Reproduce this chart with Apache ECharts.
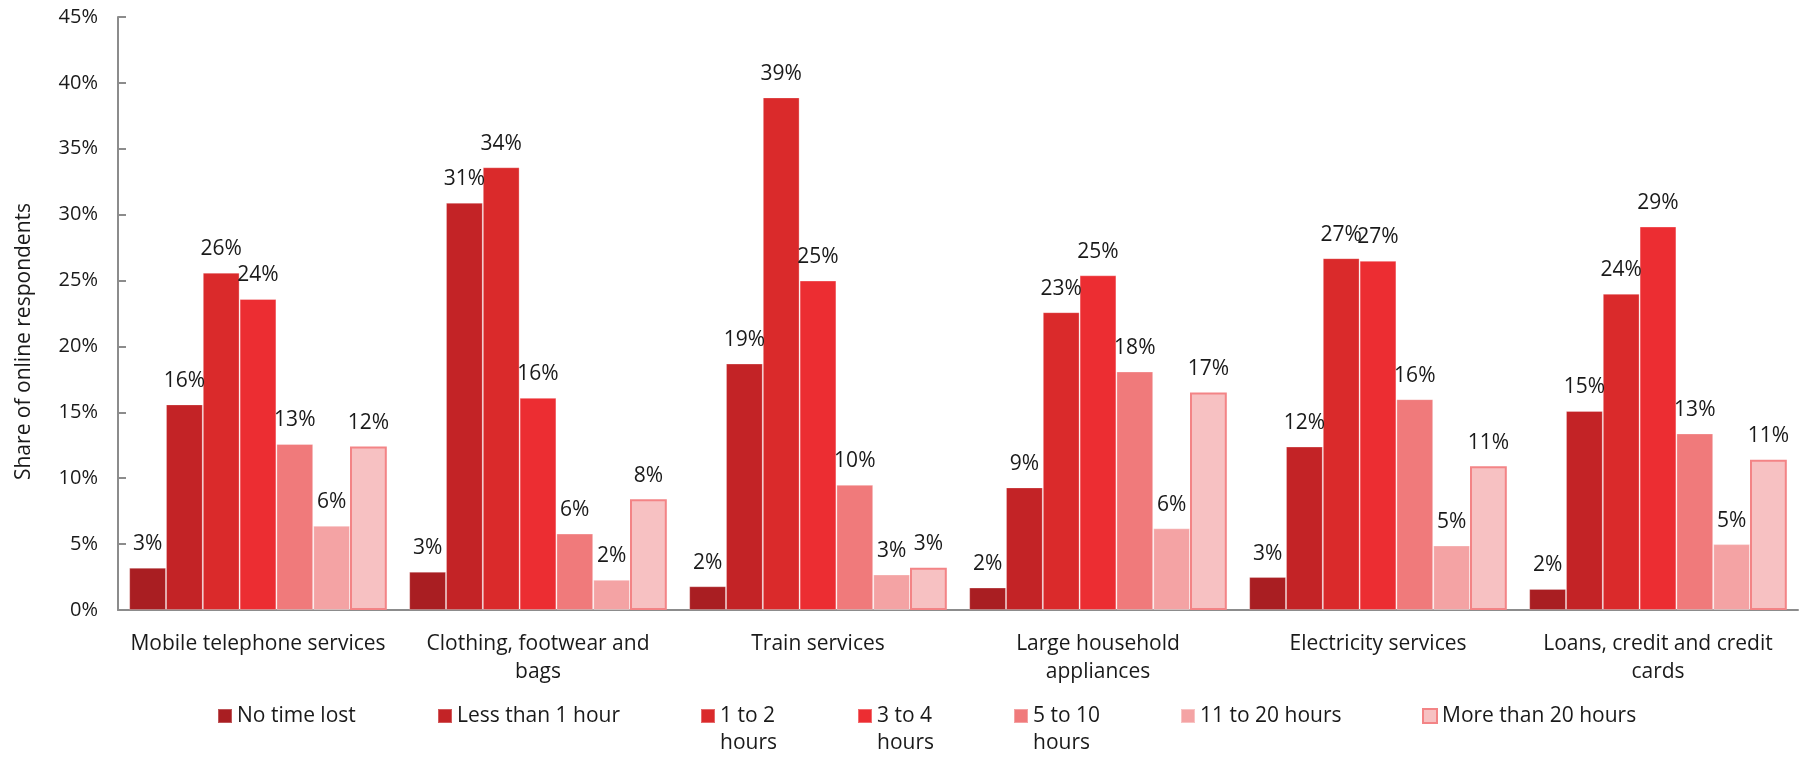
<!DOCTYPE html>
<html>
<head>
<meta charset="utf-8">
<script src="https://cdn.jsdelivr.net/npm/echarts@6/dist/echarts.min.js"></script>
<style>
html,body{margin:0;padding:0;background:#fff;}
#chart{width:1803px;height:758px;}
</style>
</head>
<body>
<div id="chart"></div>
<script>
const categories = [
  'Mobile telephone services',
  'Clothing, footwear and\nbags',
  'Train services',
  'Large household\nappliances',
  'Electricity services',
  'Loans, credit and credit\ncards'
];
const seriesNames = ['No time lost','Less than 1 hour','1 to 2 hours','3 to 4 hours','5 to 10 hours','11 to 20 hours','More than 20 hours'];
const noTimeLost    = [3.2, 2.9, 1.8, 1.7, 2.5, 1.6];
const lessThan1h    = [15.6, 30.9, 18.7, 9.3, 12.4, 15.1];
const oneTo2h       = [25.6, 33.6, 38.9, 22.6, 26.7, 24.0];
const threeTo4h     = [23.6, 16.1, 25.0, 25.4, 26.5, 29.1];
const fiveTo10h     = [12.6, 5.8, 9.5, 18.1, 16.0, 13.4];
const elevenTo20h   = [6.4, 2.3, 2.7, 6.2, 4.9, 5.0];
const moreThan20h   = [12.4, 8.4, 3.2, 16.5, 10.9, 11.4];
const yTicks = {min: 0, max: 45, interval: 5};

const values = [noTimeLost, lessThan1h, oneTo2h, threeTo4h, fiveTo10h, elevenTo20h, moreThan20h];
const colors = ['#A91E22','#C32326','#DA2A2B','#EC2D32','#F07A7B','#F4A3A4','#F7C1C2'];
const borders = ['rgba(255,255,255,0.25)','rgba(255,255,255,0.25)','rgba(255,255,255,0.3)','rgba(255,255,255,0.3)','rgba(255,255,255,0.3)','rgba(255,255,255,0.35)','#F38486'];
const legendX = [217, 437, 700, 857, 1013, 1180, 1422];
const legendLabels = ['No time lost','Less than 1 hour','\n1 to 2\nhours','\n3 to 4\nhours','\n5 to 10\nhours','11 to 20 hours','More than 20 hours'];

const FONT = 'Open Sans';
const chart = echarts.init(document.getElementById('chart'), null, {renderer: 'canvas'});

const legends = seriesNames.map((n, i) => {
  const multi = legendLabels[i].indexOf('\n') >= 0;
  return {
    data: [n],
    left: legendX[i],
    top: multi ? 716 - 40.5 : 716 - 13.5,
    padding: 0,
    icon: 'rect',
    itemWidth: 14,
    itemHeight: 14,
    selectedMode: false,
    formatter: () => legendLabels[i],
    textStyle: {fontFamily: FONT, fontSize: 21, color: '#1a1a1a', lineHeight: 27}
  };
});

const series = seriesNames.map((n, i) => ({
  name: n,
  type: 'bar',
  data: values[i],
  barGap: '0%',
  barCategoryGap: '8%',
  itemStyle: {color: colors[i], borderColor: borders[i], borderWidth: i === 6 ? 2 : 1},
  label: {
    show: true,
    position: 'top',
    distance: 13,
    formatter: p => Math.round(p.value) + '%',
    fontFamily: FONT,
    fontSize: 21,
    color: '#1a1a1a'
  }
}));

chart.setOption({
  animation: false,
  backgroundColor: '#fff',
  grid: {left: 118, right: 5, top: 17, bottom: 148, containLabel: false},
  legend: legends,
  xAxis: {
    type: 'category',
    data: categories,
    axisLine: {lineStyle: {color: '#8c8c8c', width: 2}},
    axisTick: {show: false},
    axisLabel: {fontFamily: FONT, fontSize: 21, color: '#1a1a1a', margin: 20, lineHeight: 28, interval: 0}
  },
  yAxis: {
    type: 'value',
    min: yTicks.min,
    max: yTicks.max,
    interval: yTicks.interval,
    name: 'Share of online respondents',
    nameLocation: 'middle',
    nameGap: 83,
    nameTextStyle: {fontFamily: FONT, fontSize: 21, color: '#1a1a1a', padding: [0, 56, 0, 0]},
    axisLine: {show: true, lineStyle: {color: '#8c8c8c', width: 2}},
    axisTick: {show: true, inside: true, length: 8, lineStyle: {color: '#8c8c8c', width: 2}},
    splitLine: {show: false},
    axisLabel: {formatter: '{value}%', fontFamily: FONT, fontSize: 20, color: '#1a1a1a', margin: 20}
  },
  series: series
});
</script>
</body>
</html>
